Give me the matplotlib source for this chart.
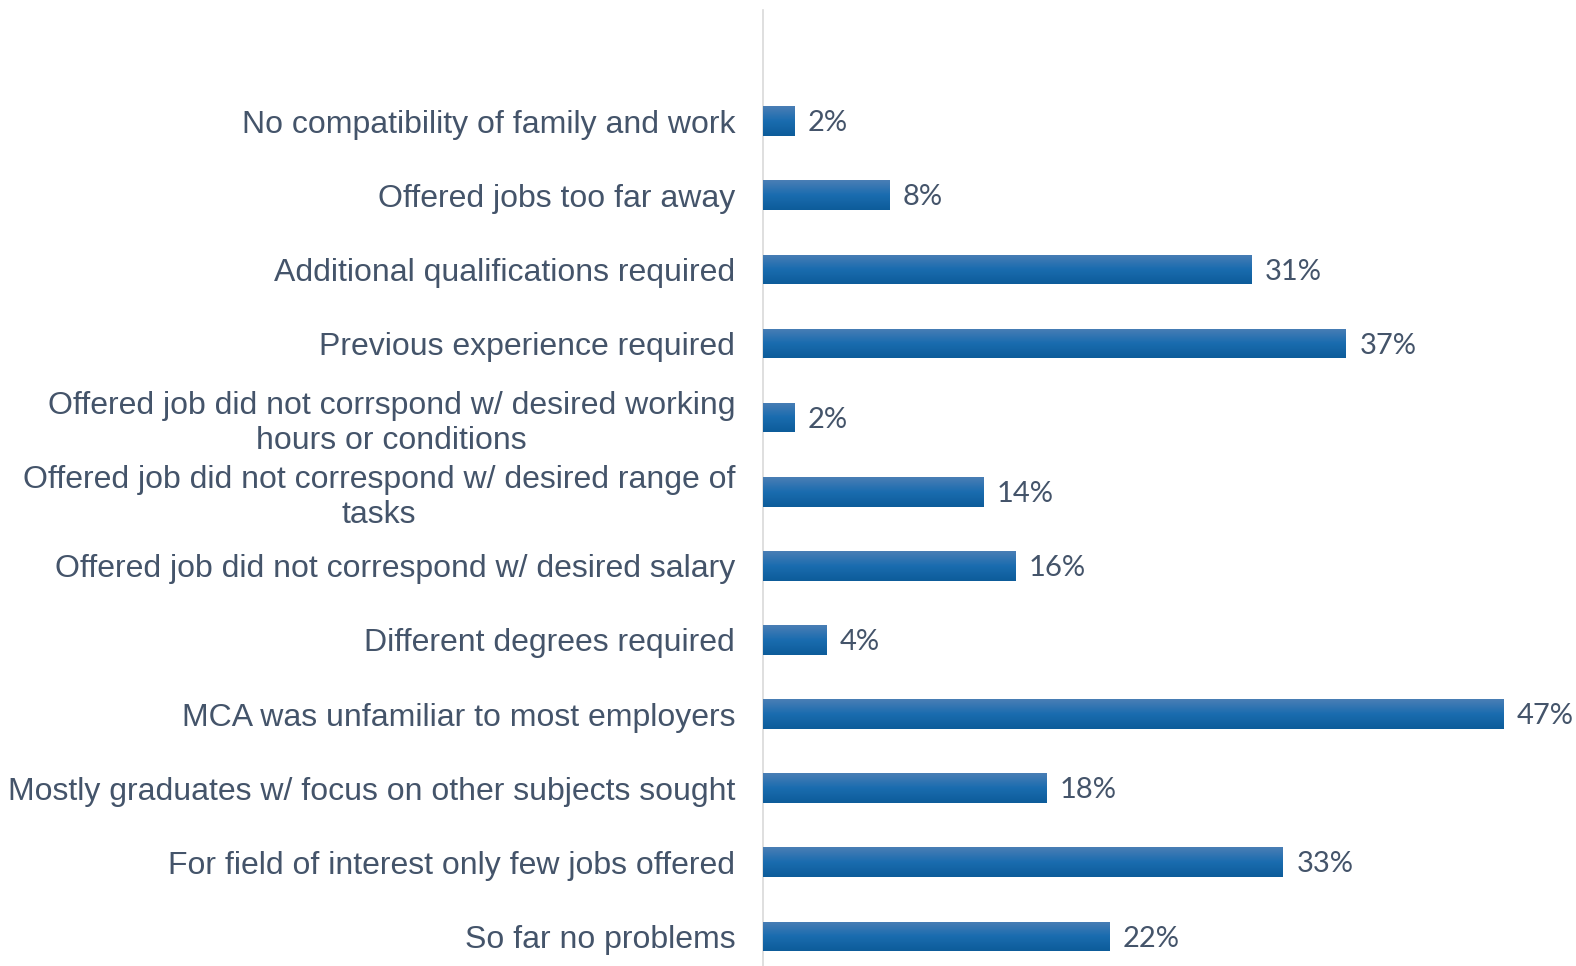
import numpy as np
import matplotlib
matplotlib.use("Agg")
import matplotlib.pyplot as plt
from matplotlib.colors import LinearSegmentedColormap

categories = [
    "No compatibility of family and work",
    "Offered jobs too far away",
    "Additional qualifications required",
    "Previous experience required",
    "Offered job did not corrspond w/ desired working\nhours or conditions",
    "Offered job did not correspond w/ desired range of\ntasks",
    "Offered job did not correspond w/ desired salary",
    "Different degrees required",
    "MCA was unfamiliar to most employers",
    "Mostly graduates w/ focus on other subjects sought",
    "For field of interest only few jobs offered",
    "So far no problems",
]
values = [2, 8, 31, 37, 2, 14, 16, 4, 47, 18, 33, 22]

text_color = "#44546A"

fig = plt.figure(figsize=(15.76, 9.66), dpi=100)
ax = fig.add_axes([763 / 1576, 0.0, 1 - 763 / 1576, 1 - 10 / 966])

y = np.arange(len(categories))
bars = ax.barh(y, values, height=0.4, color="#1A6CAF", zorder=2)

# vertical gradient fill clipped to each bar
grad_cmap = LinearSegmentedColormap.from_list(
    "bar_grad", ["#4A7EB5", "#1A6CAF", "#0D5C9A"])
grad = np.linspace(0, 1, 64).reshape(-1, 1)
for patch in bars:
    x0, y0 = patch.get_x(), patch.get_y()
    w, h = patch.get_width(), patch.get_height()
    im = ax.imshow(grad, cmap=grad_cmap, aspect="auto",
                   extent=[x0, x0 + w, y0 + h, y0], origin="upper",
                   zorder=3, interpolation="bilinear")
    im.set_clip_path(patch)

for yi, v in zip(y, values):
    ax.text(v + 0.85, yi + 0.03, f"{v}%", va="center", ha="left",
            fontsize=21, color=text_color, family="Lato")

ax.set_xlim(0, 51.6)
ax.set_ylim(11.4, -1.5)
ax.set_yticks(y)
ax.set_yticklabels(categories, fontsize=23, color=text_color,
                   family="Liberation Sans", linespacing=1.22)
for lbl in ax.get_yticklabels():
    lbl.set_multialignment("center")
ax.tick_params(axis="y", length=0, pad=20)
ax.set_xticks([])

for side in ("top", "right", "bottom"):
    ax.spines[side].set_visible(False)
ax.spines["left"].set_color("#D9D9D9")
ax.spines["left"].set_linewidth(1.2)

fig.savefig("out.png", dpi=100)
